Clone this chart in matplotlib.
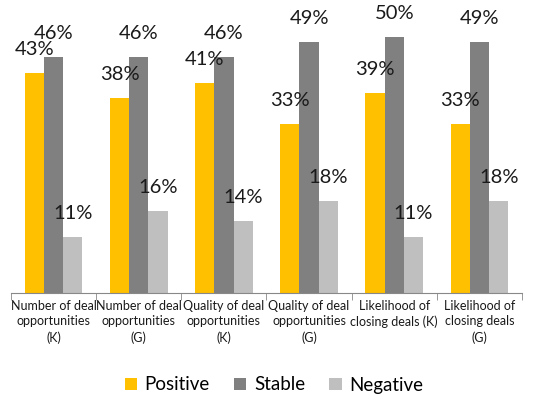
import matplotlib
matplotlib.use("Agg")
import matplotlib.pyplot as plt
import numpy as np

categories = ["Number of deal\nopportunities\n(K)", "Number of deal\nopportunities\n(G)",
              "Quality of deal\nopportunities\n(K)", "Quality of deal\nopportunities\n(G)",
              "Likelihood of\nclosing deals (K)", "Likelihood of\nclosing deals\n(G)"]
series_names = ["Positive", "Stable", "Negative"]
positive = [43, 38, 41, 33, 39, 33]
stable = [46, 46, 46, 49, 50, 49]
negative = [11, 16, 14, 18, 11, 18]
colors = ["#FFC000", "#808080", "#BFBFBF"]

plt.rcParams['font.family'] = ['Lato', 'DejaVu Sans']

fig = plt.figure(figsize=(5.38, 4.0), dpi=100)
ax = fig.add_axes([11/538, 107/400, 511/538, 293/400])

x = np.arange(len(categories))
w = 0.226
for i, (vals, c, name) in enumerate(zip([positive, stable, negative], colors, series_names)):
    xs = x + (i - 1) * w
    bars = ax.bar(xs, vals, w, color=c, label=name)
    for xi, v in zip(xs, vals):
        ax.annotate(f"{v}%", (xi, v), xytext=(0, 17), textcoords="offset points",
                    ha="center", va="center", fontsize=14.5, color="#1a1a1a")

ax.set_xlim(-0.5, len(categories) - 0.5)
ax.set_ylim(0, 57.2)
for s in ["top", "right", "left"]:
    ax.spines[s].set_visible(False)
ax.spines["bottom"].set_color("#888888")
ax.set_yticks([])
ax.set_xticks(x)
ax.set_xticklabels(categories, fontsize=9, color="#1a1a1a", linespacing=1.35)
ax.tick_params(axis="x", which="major", length=0, pad=5)
ax.set_xticks(np.arange(-0.5, len(categories), 1.0), minor=True)
ax.tick_params(axis="x", which="minor", length=5, color="#888888")

fig.legend(loc="center", bbox_to_anchor=(274/538, 1 - 385/400), ncol=3, frameon=False,
           fontsize=13.5, handlelength=0.65, handleheight=0.65, columnspacing=1.3, handletextpad=0.4)

fig.savefig("out.png", dpi=100)
